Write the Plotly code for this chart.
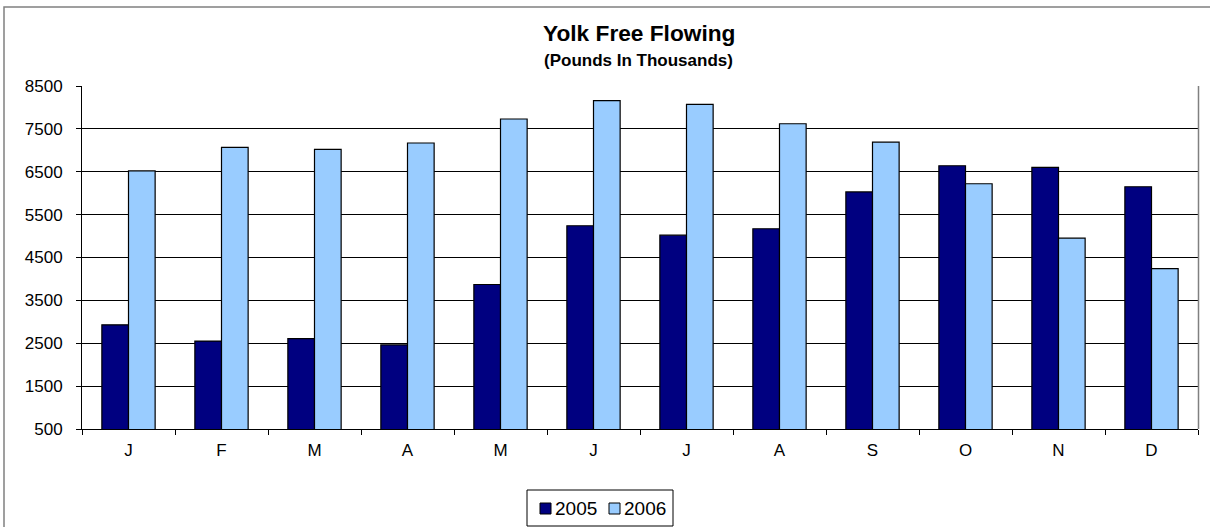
import plotly.graph_objects as go

months = ["J", "F", "M", "A", "M", "J", "J", "A", "S", "O", "N", "D"]
series_names = ["2005", "2006"]
values_2005 = [2930, 2550, 2610, 2460, 3870, 5240, 5020, 5170, 6030, 6640, 6600, 6150]
values_2006 = [6520, 7070, 7020, 7170, 7730, 8160, 8070, 7620, 7190, 6220, 4950, 4240]
y_ticks = [500, 1500, 2500, 3500, 4500, 5500, 6500, 7500, 8500]

title_text = "Yolk Free Flowing"
subtitle_text = "(Pounds In Thousands)"

W, H = 1210, 527
L, R, T, B = 82, 12, 86, 98
PW, PH = W - L - R, H - T - B

def px(x):
    return (x - L) / PW

def py(y):
    return (H - B - y) / PH

FONT = "Liberation Sans, Arial, sans-serif"
colors = ["#000080", "#99CCFF"]

cats = [f"{m}{i}" for i, m in enumerate(months)]

fig = go.Figure()
for name, vals, col in zip(series_names, [values_2005, values_2006], colors):
    fig.add_trace(go.Bar(
        x=cats, y=vals, name=name,
        marker=dict(color=col, line=dict(color="black", width=1.2)),
        showlegend=False,
    ))

fig.update_layout(
    width=W, height=H,
    margin=dict(l=L, r=R, t=T, b=B, pad=0),
    paper_bgcolor="white", plot_bgcolor="white",
    barmode="group", bargap=0.427, bargroupgap=0,
    font=dict(family=FONT, color="black", size=17),
    xaxis=dict(
        tickmode="array", tickvals=cats, ticktext=months,
        showline=True, linecolor="black", linewidth=1,
        ticks="outside", ticklen=5, tickcolor="black", tickson="boundaries",
        showgrid=False, tickfont=dict(size=17), ticklabelstandoff=6,
    ),
    yaxis=dict(
        range=[500, 8500], tickmode="array", tickvals=y_ticks,
        showline=True, linecolor="black", linewidth=1,
        ticks="outside", ticklen=5, tickcolor="black",
        showgrid=True, gridcolor="black", gridwidth=1,
        zeroline=False, tickfont=dict(size=17), ticklabelstandoff=10,
    ),
)

shapes = []
# chart border (extends past the right and bottom edges)
shapes.append(dict(type="rect", xref="paper", yref="paper",
                   x0=px(4), x1=px(1230), y0=py(540), y1=py(7),
                   line=dict(color="#808080", width=1.5), layer="below"))
# plot-area right edge
shapes.append(dict(type="line", xref="paper", yref="paper",
                   x0=px(1198.5), x1=px(1198.5), y0=py(429), y1=py(86),
                   line=dict(color="#808080", width=1.5)))
# legend box
shapes.append(dict(type="rect", xref="paper", yref="paper",
                   x0=px(527), x1=px(673), y0=py(526), y1=py(490),
                   line=dict(color="black", width=1), fillcolor="white"))
legend_pos = [(540, 553), (609, 622)]
annotations = []
for (sx, tx), name, col in zip(legend_pos, series_names, colors):
    shapes.append(dict(type="rect", xref="paper", yref="paper",
                       x0=px(sx), x1=px(sx + 11), y0=py(514), y1=py(503),
                       line=dict(color="black", width=1), fillcolor=col))
    annotations.append(dict(xref="paper", yref="paper", x=px(tx), y=py(508.5),
                            text=name, showarrow=False, xanchor="left", yanchor="middle",
                            font=dict(size=19, family=FONT, color="black")))

annotations.append(dict(xref="paper", yref="paper", x=px(639), y=py(32.5),
                        text=title_text, showarrow=False, xanchor="center", yanchor="middle",
                        font=dict(size=22.7, family=FONT, color="black", weight="bold")))
annotations.append(dict(xref="paper", yref="paper", x=px(638), y=py(60.5),
                        text=subtitle_text, showarrow=False, xanchor="center", yanchor="middle",
                        font=dict(size=17, family=FONT, color="black", weight="bold")))

fig.update_layout(shapes=shapes, annotations=annotations)
fig.write_html("out.html",
               config={"displayModeBar": False},
               post_script="document.body.style.margin='0px';document.body.style.overflow='hidden';")
